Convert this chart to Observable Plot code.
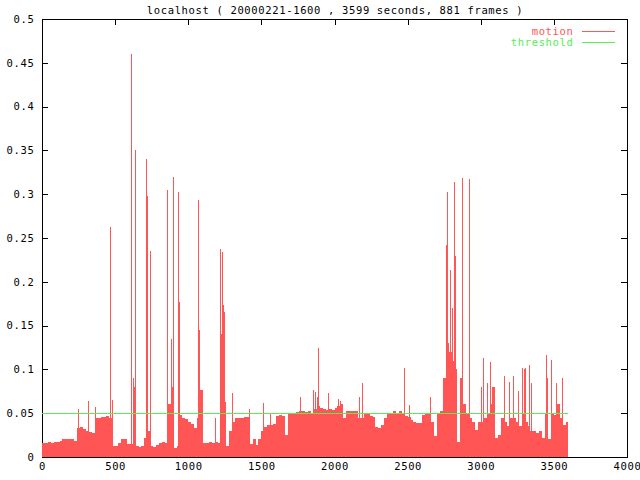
<!DOCTYPE html>
<html><head><meta charset="utf-8">
<script src="https://cdn.jsdelivr.net/npm/d3@7"></script>
<script src="https://cdn.jsdelivr.net/npm/@observablehq/plot@0.6"></script>
<style>body{margin:0;background:#fff} svg{display:block}</style>
</head><body><div id="chart"></div>
<script>
const title = "localhost ( 20000221-1600 , 3599 seconds, 881 frames )";
const duration = 3599;
const baseStep = 20;
// motion level, one value per 20 s bin (0 .. 3580 s)
const baseValues = [
  .016,.016,.017,.016,.017,.017,.018,.020,.021,.021,
  .020,.018,.033,.034,.032,.030,.028,.027,.045,.044,
  .046,.046,.047,.045,.013,.013,.016,.020,.020,.015,
  .015,.080,.012,.011,.013,.022,.030,.012,.011,.014,
  .016,.017,.016,.060,.080,.010,.012,.048,.045,.043,
  .040,.038,.033,.045,.076,.016,.016,.017,.016,.017,
  .016,.140,.063,.012,.030,.040,.045,.045,.044,.046,
  .046,.015,.020,.014,.020,.030,.034,.036,.037,.038,
  .047,.048,.047,.025,.050,.050,.049,.051,.052,.052,
  .051,.053,.050,.055,.058,.056,.055,.054,.055,.054,
  .056,.058,.060,.045,.052,.052,.053,.052,.045,.045,
  .050,.049,.047,.046,.034,.033,.036,.045,.050,.050,
  .052,.050,.052,.050,.047,.046,.042,.040,.039,.039,
  .048,.050,.050,.040,.024,.049,.053,.090,.130,.120,
  .110,.100,.017,.090,.060,.050,.045,.040,.031,.040,
  .040,.045,.050,.060,.080,.022,.025,.045,.040,.035,
  .045,.045,.040,.035,.050,.040,.035,.030,.030,.027,
  .030,.022,.050,.020,.050,.048,.060,.045,.036,.040
];
// single-frame peaks (seconds, motion)
const spikeTimes = [245,317,362,465,478,606,620,636,712,720,740,858,880,896,930,937,
  1069,1073,1183,1217,1233,1238,1245,1297,1418,1513,1560,1764,1855,1870,1880,1890,1958,
  2025,2040,2170,2186,2475,2510,2653,2765,2770,2790,2800,2805,2820,2825,2874,2917,2922,
  3005,3015,3045,3064,3159,3190,3223,3255,3283,3293,3303,3333,3347,3447,3452,3478,3513,3553];
const spikeValues = [.055,.064,.057,.262,.065,.46,.09,.35,.34,.298,.235,.305,.135,.32,.303,.177,
  .293,.145,.045,.237,.234,.173,.165,.073,.055,.062,.05,.068,.076,.074,.068,.124,.073,
  .066,.064,.069,.084,.102,.059,.069,.242,.303,.213,.17,.149,.314,.229,.318,.317,.316,
  .08,.113,.085,.109,.092,.086,.092,.075,.102,.1,.102,.105,.085,.116,.09,.111,.085,.09];
const threshold = 0.05;
const xTicks = [0,500,1000,1500,2000,2500,3000,3500,4000];
const yTicks = [0,0.05,0.1,0.15,0.2,0.25,0.3,0.35,0.4,0.45,0.5];
const yTickLabels = ["0","0.05","0.1","0.15","0.2","0.25","0.3","0.35","0.4","0.45","0.5"];
const legendLabels = ["motion","threshold"];
const colors = ["#ff5555","#55ee55"];

const W = 640, H = 480, mL = 42, mR = 13, mT = 19, mB = 23, tickLen = 6;

const base = baseValues.map((v, i) => ({t: i * baseStep, v}));
base.push({t: duration, v: baseValues[baseValues.length - 1]});
const spikes = spikeTimes.map((t, i) => ({t, v: spikeValues[i]}));

const plot = Plot.plot({
  width: W, height: H,
  marginLeft: mL, marginRight: mR, marginTop: mT, marginBottom: mB,
  style: {fontFamily: "DejaVu Sans Mono", fontSize: "10.5px", letterSpacing: "0.65px", background: "#fff", color: "#000"},
  x: {domain: [0, 4000]},
  y: {domain: [0, 0.5]},
  marks: [
    Plot.frame({stroke: "#000"}),
    Plot.axisY(yTicks, {anchor: "left", tickSize: 0, tickPadding: 8, label: null,
      tickFormat: d => yTickLabels[yTicks.indexOf(d)]}),
    Plot.axisX(xTicks, {anchor: "bottom", tickSize: 0, tickPadding: 5, label: null, tickFormat: d => String(d)}),
    Plot.areaY(base, {x: "t", y: "v", curve: "step-after", fill: colors[0], shapeRendering: "crispEdges"}),
    Plot.ruleX(spikes, {x: "t", y1: 0, y2: "v", stroke: colors[0], strokeWidth: 1, shapeRendering: "crispEdges"}),
    Plot.ruleY([threshold], {y: d => d, x1: 0, x2: duration, stroke: colors[1], strokeWidth: 1, shapeRendering: "crispEdges"}),
    Plot.text([title], {frameAnchor: "top", lineAnchor: "middle", dy: -9, fill: "#000"}),
    Plot.text([legendLabels[0]], {frameAnchor: "top-right", lineAnchor: "middle", dx: -54, dy: 12, textAnchor: "end", fill: colors[0]}),
    Plot.text([legendLabels[1]], {frameAnchor: "top-right", lineAnchor: "middle", dx: -54, dy: 23, textAnchor: "end", fill: colors[1]})
  ]
});

// inward, mirrored tick marks (drawn under the data, like gnuplot)
const svg = d3.select(plot);
const xs = plot.scale("x"), ys = plot.scale("y");
const ticks = svg.insert("g", 'g[aria-label="area"]').attr("stroke", "#000").attr("stroke-width", 1);
yTicks.forEach(v => {
  const y = Math.round(ys.apply(v)) + 0.5;
  ticks.append("line").attr("x1", mL).attr("x2", mL + tickLen).attr("y1", y).attr("y2", y);
  ticks.append("line").attr("x1", W - mR - tickLen).attr("x2", W - mR).attr("y1", y).attr("y2", y);
});
xTicks.forEach(v => {
  const x = Math.round(xs.apply(v)) + 0.5;
  ticks.append("line").attr("x1", x).attr("x2", x).attr("y1", mT).attr("y2", mT + tickLen);
  ticks.append("line").attr("x1", x).attr("x2", x).attr("y1", H - mB - tickLen).attr("y2", H - mB);
});
// legend line samples
[0, 1].forEach(i => {
  svg.append("line")
    .attr("x1", W - mR - 45).attr("x2", W - mR - 12)
    .attr("y1", mT + 12.5 + 11 * i).attr("y2", mT + 12.5 + 11 * i)
    .attr("stroke", colors[i]).attr("stroke-width", 1);
});
document.getElementById("chart").appendChild(plot);
</script>
</body></html>
